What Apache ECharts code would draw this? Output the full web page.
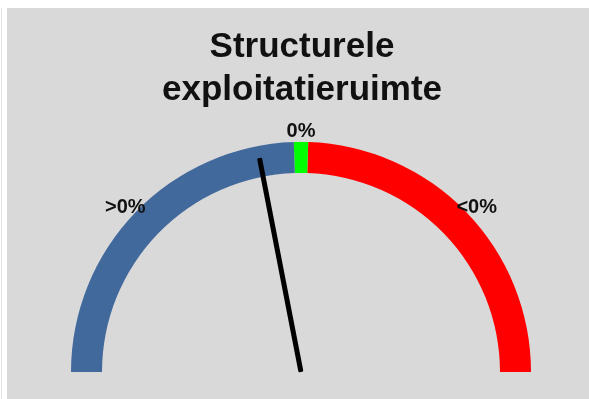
<!DOCTYPE html>
<html>
<head>
<meta charset="utf-8">
<script src="https://cdn.jsdelivr.net/npm/echarts@6/dist/echarts.min.js"></script>
<style>
html,body{margin:0;padding:0;background:#fff;}
#c{width:589px;height:399px;}
</style>
</head>
<body>
<div id="c"></div>
<script>
// Data
const titleText = 'Structurele\nexploitatieruimte';
const gaugeMin = 0;
const gaugeMax = 100;
const bandStops = [49, 51, 100];            // blue up to 49, green to 51, red to 100
const bandColors = ['#41699C', '#00FF00', '#FF0000'];
const needleValue = 43.9;
const zoneLabels = ['>0%', '0%', '<0%'];
const zoneLabelValues = [24, 50, 76];       // positions of zone labels on the gauge scale

const chart = echarts.init(document.getElementById('c'), null, {renderer: 'canvas'});

const cx = 301, cy = 372;
const arcRadius = 230;
const labelRadius = 241;
const valueToAngle = v => 180 * (1 - (v - gaugeMin) / (gaugeMax - gaugeMin));

chart.setOption({
  backgroundColor: '#ffffff',
  animation: false,
  graphic: [
    {type: 'rect', z: -10, shape: {x: 7, y: 8, width: 582, height: 391}, style: {fill: '#D9D9D9'}},
    {type: 'rect', z: -10, shape: {x: 1, y: 8, width: 1, height: 391}, style: {fill: '#E4E4E4'}}
  ],
  title: {
    text: titleText,
    left: 297,
    top: 21,
    textAlign: 'center',
    textStyle: {
      fontFamily: 'Liberation Sans, Arial, sans-serif',
      fontWeight: 'bold',
      fontSize: 35,
      lineHeight: 43,
      color: '#111111'
    }
  },
  polar: {center: [cx, cy], radius: 300},
  radiusAxis: {min: 0, max: 300, show: false},
  angleAxis: {min: 0, max: 360, startAngle: 0, clockwise: false, show: false},
  series: [
    {
      type: 'gauge',
      center: [cx, cy],
      radius: arcRadius,
      startAngle: 180,
      endAngle: 0,
      min: gaugeMin,
      max: gaugeMax,
      axisLine: {
        lineStyle: {
          width: 31,
          color: bandStops.map((s, i) => [(s - gaugeMin) / (gaugeMax - gaugeMin), bandColors[i]])
        }
      },
      axisTick: {show: false},
      splitLine: {show: false},
      axisLabel: {show: false},
      pointer: {
        icon: 'roundRect',
        length: 218,
        width: 5,
        offsetCenter: [0, 0],
        itemStyle: {color: '#000000'}
      },
      anchor: {show: false},
      title: {show: false},
      detail: {show: false},
      data: [{value: needleValue}]
    },
    {
      type: 'scatter',
      coordinateSystem: 'polar',
      symbolSize: 1,
      itemStyle: {color: 'rgba(0,0,0,0)'},
      silent: true,
      label: {
        show: true,
        position: 'inside',
        fontFamily: 'Liberation Sans, Arial, sans-serif',
        fontWeight: 'bold',
        fontSize: 20,
        color: '#111111',
        opacity: 1,
        textBorderWidth: 0,
        formatter: p => zoneLabels[p.dataIndex]
      },
      data: zoneLabelValues.map(v => [labelRadius, valueToAngle(v)])
    }
  ]
});
</script>
</body>
</html>
